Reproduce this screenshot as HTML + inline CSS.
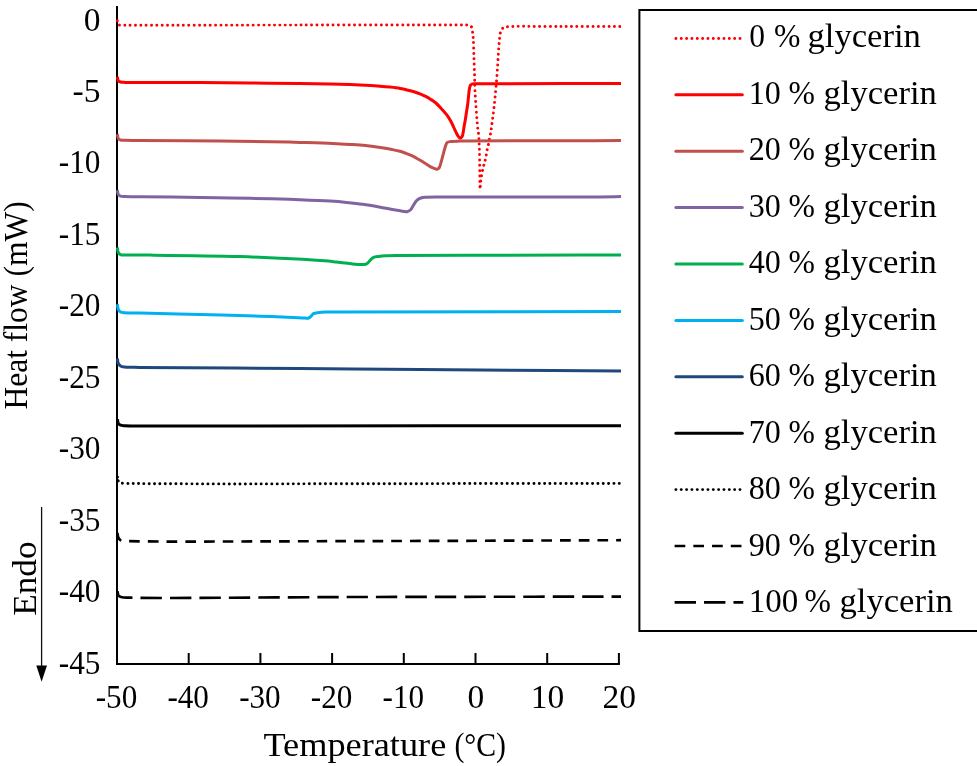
<!DOCTYPE html>
<html><head><meta charset="utf-8"><title>DSC Heat flow vs Temperature</title>
<style>html,body{margin:0;padding:0;background:#fff;}svg{display:block;will-change:transform;}text{font-family:"Liberation Serif",serif;}</style>
</head><body>
<svg width="977" height="766" viewBox="0 0 977 766">
<rect x="0" y="0" width="977" height="766" fill="#fff"/>
<defs><clipPath id="pc"><rect x="110" y="0" width="511" height="700"/></clipPath></defs>

<g stroke="#000" stroke-width="2" fill="none">
<line x1="117" y1="6" x2="117" y2="665"/>
<line x1="116" y1="664" x2="619.9" y2="664"/>
<line x1="188.7" y1="653" x2="188.7" y2="664"/>
<line x1="260.4" y1="653" x2="260.4" y2="664"/>
<line x1="332.1" y1="653" x2="332.1" y2="664"/>
<line x1="403.8" y1="653" x2="403.8" y2="664"/>
<line x1="475.5" y1="653" x2="475.5" y2="664"/>
<line x1="547.2" y1="653" x2="547.2" y2="664"/>
<line x1="618.9" y1="653" x2="618.9" y2="664"/>
</g>
<g clip-path="url(#pc)">
<path d="M117.30,20.80 C117.40,21.67 117.33,22.69 117.60,23.40 C117.82,23.97 118.14,24.50 118.60,24.80 C119.09,25.12 119.74,25.12 120.50,25.20 C121.60,25.31 122.23,25.20 124.60,25.20 C140.11,25.20 242.88,25.13 300.00,25.10 C354.56,25.07 440.61,24.88 460.00,25.00 C464.31,25.03 465.85,24.65 467.90,25.10 C469.31,25.41 470.52,25.66 471.30,26.60 C472.27,27.76 472.28,30.26 472.60,32.10 C472.91,33.92 473.03,35.28 473.20,37.60 C473.49,41.54 473.60,47.91 473.80,53.60 C474.03,60.10 474.29,67.93 474.50,74.50 C474.69,80.35 474.66,84.48 475.00,91.10 C475.51,100.98 476.96,121.11 477.70,128.00 C477.99,130.69 478.27,131.42 478.50,133.60 C478.81,136.63 479.02,140.55 479.20,144.50 C479.41,149.21 479.47,154.02 479.60,160.00 C479.78,168.20 479.83,189.19 480.10,189.20 C480.21,189.20 480.35,185.73 480.50,184.00 C480.65,182.27 480.76,180.58 481.00,178.80 C481.25,176.91 481.62,174.86 482.00,173.00 C482.36,171.27 482.82,169.67 483.20,168.00 C483.58,166.34 483.87,164.66 484.30,163.00 C484.73,161.33 485.42,159.70 485.80,158.00 C486.18,156.30 486.31,154.51 486.60,152.80 C486.88,151.12 487.13,149.44 487.50,147.80 C487.87,146.18 488.44,144.66 488.80,143.00 C489.18,141.24 489.35,139.33 489.70,137.50 C490.05,135.66 490.60,133.80 490.90,132.00 C491.19,130.30 491.22,129.24 491.50,127.00 C492.07,122.39 493.35,113.68 494.20,105.90 C495.24,96.33 496.42,82.66 497.10,73.80 C497.58,67.55 497.79,62.60 498.10,57.80 C498.35,53.88 498.56,50.05 498.80,47.10 C498.97,45.02 499.12,43.57 499.30,41.80 C499.48,40.01 499.65,38.18 499.90,36.40 C500.15,34.65 500.16,32.71 500.80,31.20 C501.38,29.81 502.21,28.35 503.40,27.60 C504.65,26.81 505.73,26.93 508.20,26.70 C516.24,25.94 541.96,26.63 560.00,26.60 C579.74,26.57 601.33,26.53 622.00,26.50" stroke="#FF0000" stroke-width="2.95" fill="none" stroke-linecap="round" stroke-dasharray="0.01 5.33"/>
<path d="M117.40,76.90 C117.70,78.20 117.65,79.94 118.30,80.80 C118.81,81.48 119.60,81.73 120.50,82.00 C121.70,82.36 122.89,82.31 125.00,82.40 C129.96,82.62 140.24,82.38 150.00,82.40 C163.81,82.43 183.33,82.50 200.00,82.60 C216.67,82.70 233.33,82.85 250.00,83.00 C266.67,83.15 285.45,83.31 300.00,83.50 C311.27,83.65 321.01,83.79 330.00,84.00 C337.34,84.17 343.81,84.36 350.00,84.60 C355.36,84.81 360.00,85.03 365.00,85.30 C370.00,85.57 375.51,85.86 380.00,86.20 C383.67,86.48 386.66,86.74 390.00,87.10 C393.36,87.47 397.31,87.92 400.10,88.40 C402.10,88.74 403.49,89.10 405.20,89.50 C406.93,89.90 408.68,90.33 410.40,90.80 C412.11,91.27 413.81,91.75 415.50,92.30 C417.21,92.85 418.91,93.42 420.60,94.10 C422.31,94.79 424.02,95.53 425.70,96.40 C427.42,97.29 429.12,98.32 430.80,99.40 C432.52,100.51 434.28,101.62 435.90,103.00 C437.62,104.46 439.13,106.18 440.80,108.00 C442.68,110.04 444.94,112.48 446.60,114.70 C448.08,116.68 449.27,118.61 450.40,120.60 C451.49,122.51 452.35,124.44 453.30,126.40 C454.26,128.38 455.18,130.59 456.10,132.40 C456.88,133.94 457.56,135.56 458.40,136.60 C459.02,137.37 459.77,138.33 460.40,138.30 C461.00,138.28 461.66,137.37 462.10,136.60 C462.70,135.55 462.89,133.82 463.20,132.30 C463.54,130.63 463.68,128.93 464.00,127.00 C464.39,124.65 464.97,121.81 465.40,119.20 C465.83,116.58 466.20,113.92 466.60,111.30 C467.00,108.69 467.47,106.10 467.80,103.50 C468.13,100.90 468.31,98.26 468.60,95.70 C468.88,93.20 469.06,90.26 469.50,88.30 C469.80,86.96 469.99,85.74 470.60,85.00 C471.08,84.41 471.69,84.14 472.50,83.90 C473.69,83.55 474.54,83.76 477.20,83.70 C491.94,83.38 573.73,83.63 622.00,83.60" stroke="#FF0000" stroke-width="3" fill="none" stroke-linejoin="round" stroke-linecap="butt"/>
<path d="M117.40,134.10 C117.70,135.57 117.63,137.50 118.30,138.50 C118.81,139.27 119.58,139.68 120.50,140.00 C121.69,140.41 123.06,140.23 125.00,140.30 C128.54,140.43 133.02,140.35 140.00,140.40 C156.12,140.52 196.45,140.86 220.00,141.10 C238.62,141.29 255.45,141.44 270.00,141.70 C281.27,141.90 289.78,142.12 300.00,142.40 C310.69,142.69 323.62,142.99 332.80,143.40 C339.45,143.69 344.42,144.02 350.00,144.40 C355.30,144.76 360.27,145.06 365.50,145.60 C370.90,146.15 377.10,146.97 381.90,147.70 C385.68,148.28 388.84,148.86 392.00,149.50 C394.83,150.07 397.53,150.60 400.00,151.30 C402.19,151.92 404.07,152.64 406.10,153.40 C408.17,154.17 410.27,154.93 412.30,155.90 C414.37,156.89 416.37,158.13 418.40,159.30 C420.47,160.49 422.55,161.73 424.60,163.00 C426.65,164.27 428.75,165.88 430.70,166.90 C432.36,167.77 434.23,168.58 435.50,168.90 C436.29,169.10 436.89,169.29 437.50,169.10 C438.16,168.90 438.76,168.41 439.30,167.60 C440.33,166.06 441.06,162.17 441.80,159.60 C442.48,157.25 442.98,155.06 443.60,152.80 C444.22,150.56 444.78,147.98 445.50,146.10 C446.05,144.66 446.35,143.16 447.30,142.40 C448.21,141.67 449.48,141.72 451.00,141.50 C453.33,141.17 455.51,141.21 460.00,141.10 C473.39,140.78 513.17,140.88 540.00,140.80 C567.16,140.72 594.67,140.67 622.00,140.60" stroke="#C0504D" stroke-width="3" fill="none" stroke-linejoin="round" stroke-linecap="butt"/>
<path d="M117.40,190.10 C117.70,191.57 117.65,193.45 118.30,194.50 C118.81,195.33 119.57,195.84 120.50,196.20 C121.68,196.66 123.06,196.50 125.00,196.60 C128.54,196.78 133.33,196.72 140.00,196.80 C153.33,196.96 183.43,197.18 200.00,197.40 C211.72,197.56 219.18,197.69 230.00,197.90 C242.74,198.14 259.05,198.47 271.60,198.80 C281.97,199.08 290.41,199.32 300.00,199.70 C309.86,200.09 321.50,200.57 330.00,201.10 C336.29,201.50 340.94,201.88 346.40,202.40 C351.87,202.92 357.35,203.45 362.80,204.20 C368.25,204.95 373.67,205.92 379.10,206.90 C384.57,207.89 390.97,209.30 395.50,210.10 C398.70,210.67 401.57,211.14 403.70,211.40 C405.04,211.57 405.92,211.90 407.00,211.70 C408.16,211.48 409.38,210.92 410.40,210.00 C411.72,208.82 412.65,206.38 413.80,204.70 C414.88,203.12 415.81,201.34 417.10,200.20 C418.25,199.18 419.61,198.48 421.00,198.00 C422.41,197.51 423.57,197.47 425.50,197.30 C428.95,197.00 432.57,197.08 440.00,197.00 C464.68,196.74 571.15,197.11 600.00,196.90 C610.70,196.82 614.67,196.70 622.00,196.60" stroke="#8064A2" stroke-width="3" fill="none" stroke-linejoin="round" stroke-linecap="butt"/>
<path d="M117.40,247.50 C117.70,249.17 117.63,251.26 118.30,252.50 C118.81,253.46 119.54,254.17 120.50,254.60 C121.67,255.13 122.89,254.90 125.00,255.00 C129.96,255.23 139.09,254.99 150.00,255.10 C170.71,255.31 210.89,255.67 240.00,256.60 C267.46,257.48 307.07,259.62 320.00,260.40 C324.14,260.65 325.47,260.73 328.20,261.00 C330.94,261.27 333.67,261.67 336.40,262.00 C339.13,262.33 341.87,262.68 344.60,263.00 C347.33,263.32 350.06,263.65 352.80,263.90 C355.53,264.15 358.84,264.42 361.00,264.50 C362.41,264.55 363.40,264.73 364.50,264.50 C365.56,264.28 366.54,263.88 367.50,263.20 C368.67,262.37 369.70,260.62 370.80,259.60 C371.74,258.73 372.44,257.93 373.60,257.40 C375.04,256.75 377.11,256.66 379.00,256.40 C381.06,256.11 382.90,255.95 385.50,255.80 C389.37,255.58 393.00,255.58 400.00,255.50 C418.38,255.28 465.01,255.30 500.00,255.20 C538.65,255.09 581.33,255.00 622.00,254.90" stroke="#00B050" stroke-width="3" fill="none" stroke-linejoin="round" stroke-linecap="butt"/>
<path d="M117.40,304.20 C117.70,305.93 117.66,308.03 118.30,309.40 C118.81,310.50 119.51,311.43 120.50,312.00 C121.65,312.66 123.05,312.61 125.00,312.80 C128.53,313.15 133.33,312.96 140.00,313.10 C153.33,313.39 180.00,313.98 200.00,314.50 C220.00,315.02 246.27,315.75 260.00,316.20 C267.18,316.43 270.93,316.58 276.40,316.80 C281.87,317.02 287.74,317.27 292.80,317.50 C297.17,317.70 302.16,318.03 305.00,318.10 C306.52,318.14 307.47,318.45 308.50,318.10 C309.50,317.76 310.28,316.84 311.10,316.10 C311.95,315.34 312.49,314.15 313.50,313.60 C314.59,313.00 315.93,313.03 317.50,312.80 C319.70,312.47 322.44,312.15 325.50,312.00 C329.62,311.79 332.12,312.01 340.00,312.00 C374.75,311.98 528.00,311.73 622.00,311.60" stroke="#00B0F0" stroke-width="3" fill="none" stroke-linejoin="round" stroke-linecap="butt"/>
<path d="M117.40,358.50 C117.70,360.17 117.67,362.19 118.30,363.50 C118.81,364.56 119.52,365.42 120.50,366.00 C121.66,366.68 123.05,366.76 125.00,367.00 C128.52,367.43 132.34,367.27 140.00,367.40 C165.00,367.82 250.50,368.14 300.00,368.50 C342.87,368.81 374.82,369.04 420.00,369.40 C478.62,369.87 554.67,370.53 622.00,371.10" stroke="#1F497D" stroke-width="3" fill="none" stroke-linejoin="round" stroke-linecap="butt"/>
<path d="M117.50,419.20 C117.77,420.63 117.67,422.47 118.30,423.50 C118.80,424.32 119.57,424.82 120.50,425.20 C121.68,425.68 123.06,425.58 125.00,425.70 C128.54,425.92 131.50,425.85 140.00,425.90 C188.19,426.21 461.33,425.77 622.00,425.70" stroke="#000000" stroke-width="3" fill="none" stroke-linejoin="round" stroke-linecap="butt"/>
<path d="M117.40,476.80 C117.47,477.67 117.40,478.63 117.60,479.40 C117.77,480.07 118.01,480.64 118.40,481.20 C118.84,481.82 119.39,482.53 120.20,482.90 C121.27,483.38 121.87,483.18 124.50,483.30 C152.71,484.61 456.17,483.37 622.00,483.40" stroke="#000000" stroke-width="2.95" fill="none" stroke-linecap="round" stroke-dasharray="0.01 5.33" stroke-dashoffset="1.2"/>
<path d="M117.40,533.00 C117.77,534.67 117.77,536.70 118.50,538.00 C119.11,539.09 120.05,540.00 121.10,540.50 C122.20,541.03 122.69,540.85 125.00,541.00 C142.87,542.14 279.54,541.22 360.00,541.10 C444.96,540.97 534.67,540.50 622.00,540.20" stroke="#000000" stroke-width="2.67" fill="none" stroke-linecap="butt" stroke-dasharray="10.700 8.025" stroke-dashoffset="1.8"/>
<path d="M117.50,591.20 C117.83,592.63 117.78,594.52 118.50,595.50 C119.08,596.30 119.82,596.63 121.00,597.00 C123.26,597.71 125.78,597.52 131.60,597.70 C158.58,598.55 281.26,597.18 360.00,597.00 C444.34,596.81 534.67,596.73 622.00,596.60" stroke="#000000" stroke-width="2.67" fill="none" stroke-linecap="butt" stroke-dasharray="21.400 8.025" stroke-dashoffset="2.39"/>
<circle cx="117.5" cy="477.1" r="1.47" fill="#000"/>
</g>
<g font-size="33.5" text-anchor="end" fill="#000">
<text x="100.5" y="30.5">0</text>
<text x="100.5" y="102.0">-5</text>
<text x="100.5" y="173.4" textLength="41.7" lengthAdjust="spacingAndGlyphs">-10</text>
<text x="100.5" y="244.9" textLength="41.7" lengthAdjust="spacingAndGlyphs">-15</text>
<text x="100.5" y="316.3" textLength="41.7" lengthAdjust="spacingAndGlyphs">-20</text>
<text x="100.5" y="387.8" textLength="41.7" lengthAdjust="spacingAndGlyphs">-25</text>
<text x="100.5" y="459.2" textLength="41.7" lengthAdjust="spacingAndGlyphs">-30</text>
<text x="100.5" y="530.7" textLength="41.7" lengthAdjust="spacingAndGlyphs">-35</text>
<text x="100.5" y="602.1" textLength="41.7" lengthAdjust="spacingAndGlyphs">-40</text>
<text x="100.5" y="673.6" textLength="41.7" lengthAdjust="spacingAndGlyphs">-45</text>
</g>
<g font-size="33.5" text-anchor="middle" fill="#000">
<text x="116.5" y="708.2" textLength="41.5" lengthAdjust="spacingAndGlyphs">-50</text>
<text x="188.2" y="708.2" textLength="41.5" lengthAdjust="spacingAndGlyphs">-40</text>
<text x="259.9" y="708.2" textLength="41.5" lengthAdjust="spacingAndGlyphs">-30</text>
<text x="331.6" y="708.2" textLength="41.5" lengthAdjust="spacingAndGlyphs">-20</text>
<text x="403.3" y="708.2" textLength="41.5" lengthAdjust="spacingAndGlyphs">-10</text>
<text x="475.8" y="708.2">0</text>
<text x="547.5" y="708.2">10</text>
<text x="619.2" y="708.2">20</text>
</g>
<text x="263.4" y="755.8" font-size="33.5" textLength="182.9" lengthAdjust="spacingAndGlyphs">Temperature</text>
<text x="454.4" y="755.8" font-size="33.5" textLength="51.6" lengthAdjust="spacingAndGlyphs">(°C)</text>
<text transform="translate(26.9,409.6) rotate(-90)" x="0" y="0" font-size="33.5" textLength="208.3" lengthAdjust="spacingAndGlyphs">Heat flow (mW)</text>
<text transform="translate(36,615.8) rotate(-90)" x="0" y="0" font-size="33.5" textLength="74.4" lengthAdjust="spacingAndGlyphs">Endo</text>
<line x1="41.6" y1="507" x2="41.6" y2="667" stroke="#111" stroke-width="1.3"/>
<path d="M36.3,665.6 L47,665.6 L41.6,681.8 Z" fill="#000"/>
<rect x="639.4" y="10" width="400" height="621.0" fill="none" stroke="#000" stroke-width="2"/>
<line x1="675.9" y1="38.4" x2="742.4" y2="38.4" stroke="#FF0000" stroke-width="2.95" fill="none" stroke-linecap="round" stroke-dasharray="0.01 5.33"/>
<text y="47.20" font-size="33.5"><tspan x="749.3" textLength="15.75" lengthAdjust="spacingAndGlyphs">0</tspan><tspan x="774.1" textLength="26.4" lengthAdjust="spacingAndGlyphs">%</tspan><tspan x="807.5" textLength="113.4" lengthAdjust="spacingAndGlyphs">glycerin</tspan></text>
<line x1="675.9" y1="94.8" x2="742.3" y2="94.8" stroke="#FF0000" stroke-width="3" stroke-linecap="round"/>
<text y="103.71" font-size="33.5"><tspan x="748.8" textLength="32.1" lengthAdjust="spacingAndGlyphs">10</tspan><tspan x="788.6" textLength="26.4" lengthAdjust="spacingAndGlyphs">%</tspan><tspan x="823.5" textLength="113.4" lengthAdjust="spacingAndGlyphs">glycerin</tspan></text>
<line x1="675.9" y1="151.2" x2="742.3" y2="151.2" stroke="#C0504D" stroke-width="3" stroke-linecap="round"/>
<text y="160.22" font-size="33.5"><tspan x="748.8" textLength="32.1" lengthAdjust="spacingAndGlyphs">20</tspan><tspan x="788.6" textLength="26.4" lengthAdjust="spacingAndGlyphs">%</tspan><tspan x="823.5" textLength="113.4" lengthAdjust="spacingAndGlyphs">glycerin</tspan></text>
<line x1="675.9" y1="207.6" x2="742.3" y2="207.6" stroke="#8064A2" stroke-width="3" stroke-linecap="round"/>
<text y="216.73" font-size="33.5"><tspan x="748.8" textLength="32.1" lengthAdjust="spacingAndGlyphs">30</tspan><tspan x="788.6" textLength="26.4" lengthAdjust="spacingAndGlyphs">%</tspan><tspan x="823.5" textLength="113.4" lengthAdjust="spacingAndGlyphs">glycerin</tspan></text>
<line x1="675.9" y1="264.0" x2="742.3" y2="264.0" stroke="#00B050" stroke-width="3" stroke-linecap="round"/>
<text y="273.24" font-size="33.5"><tspan x="748.8" textLength="32.1" lengthAdjust="spacingAndGlyphs">40</tspan><tspan x="788.6" textLength="26.4" lengthAdjust="spacingAndGlyphs">%</tspan><tspan x="823.5" textLength="113.4" lengthAdjust="spacingAndGlyphs">glycerin</tspan></text>
<line x1="675.9" y1="320.4" x2="742.3" y2="320.4" stroke="#00B0F0" stroke-width="3" stroke-linecap="round"/>
<text y="329.75" font-size="33.5"><tspan x="748.8" textLength="32.1" lengthAdjust="spacingAndGlyphs">50</tspan><tspan x="788.6" textLength="26.4" lengthAdjust="spacingAndGlyphs">%</tspan><tspan x="823.5" textLength="113.4" lengthAdjust="spacingAndGlyphs">glycerin</tspan></text>
<line x1="675.9" y1="376.8" x2="742.3" y2="376.8" stroke="#1F497D" stroke-width="3" stroke-linecap="round"/>
<text y="386.26" font-size="33.5"><tspan x="748.8" textLength="32.1" lengthAdjust="spacingAndGlyphs">60</tspan><tspan x="788.6" textLength="26.4" lengthAdjust="spacingAndGlyphs">%</tspan><tspan x="823.5" textLength="113.4" lengthAdjust="spacingAndGlyphs">glycerin</tspan></text>
<line x1="675.9" y1="433.2" x2="742.3" y2="433.2" stroke="#000000" stroke-width="3" stroke-linecap="round"/>
<text y="442.77" font-size="33.5"><tspan x="748.8" textLength="32.1" lengthAdjust="spacingAndGlyphs">70</tspan><tspan x="788.6" textLength="26.4" lengthAdjust="spacingAndGlyphs">%</tspan><tspan x="823.5" textLength="113.4" lengthAdjust="spacingAndGlyphs">glycerin</tspan></text>
<line x1="675.9" y1="489.6" x2="742.4" y2="489.6" stroke="#000000" stroke-width="2.95" fill="none" stroke-linecap="round" stroke-dasharray="0.01 5.33"/>
<text y="499.28" font-size="33.5"><tspan x="748.8" textLength="32.1" lengthAdjust="spacingAndGlyphs">80</tspan><tspan x="788.6" textLength="26.4" lengthAdjust="spacingAndGlyphs">%</tspan><tspan x="823.5" textLength="113.4" lengthAdjust="spacingAndGlyphs">glycerin</tspan></text>
<line x1="674.6" y1="546.0" x2="743.3" y2="546.0" stroke="#000000" stroke-width="2.67" fill="none" stroke-linecap="butt" stroke-dasharray="10.700 8.025" stroke-dashoffset="0"/>
<text y="555.79" font-size="33.5"><tspan x="748.8" textLength="32.1" lengthAdjust="spacingAndGlyphs">90</tspan><tspan x="788.6" textLength="26.4" lengthAdjust="spacingAndGlyphs">%</tspan><tspan x="823.5" textLength="113.4" lengthAdjust="spacingAndGlyphs">glycerin</tspan></text>
<line x1="674.6" y1="602.4" x2="743.3" y2="602.4" stroke="#000000" stroke-width="2.67" fill="none" stroke-linecap="butt" stroke-dasharray="21.400 8.025" stroke-dashoffset="0.00"/>
<text y="612.30" font-size="33.5"><tspan x="748.8" textLength="49.5" lengthAdjust="spacingAndGlyphs">100</tspan><tspan x="804.6" textLength="26.4" lengthAdjust="spacingAndGlyphs">%</tspan><tspan x="839.5" textLength="113.4" lengthAdjust="spacingAndGlyphs">glycerin</tspan></text>
</svg>
</body></html>
